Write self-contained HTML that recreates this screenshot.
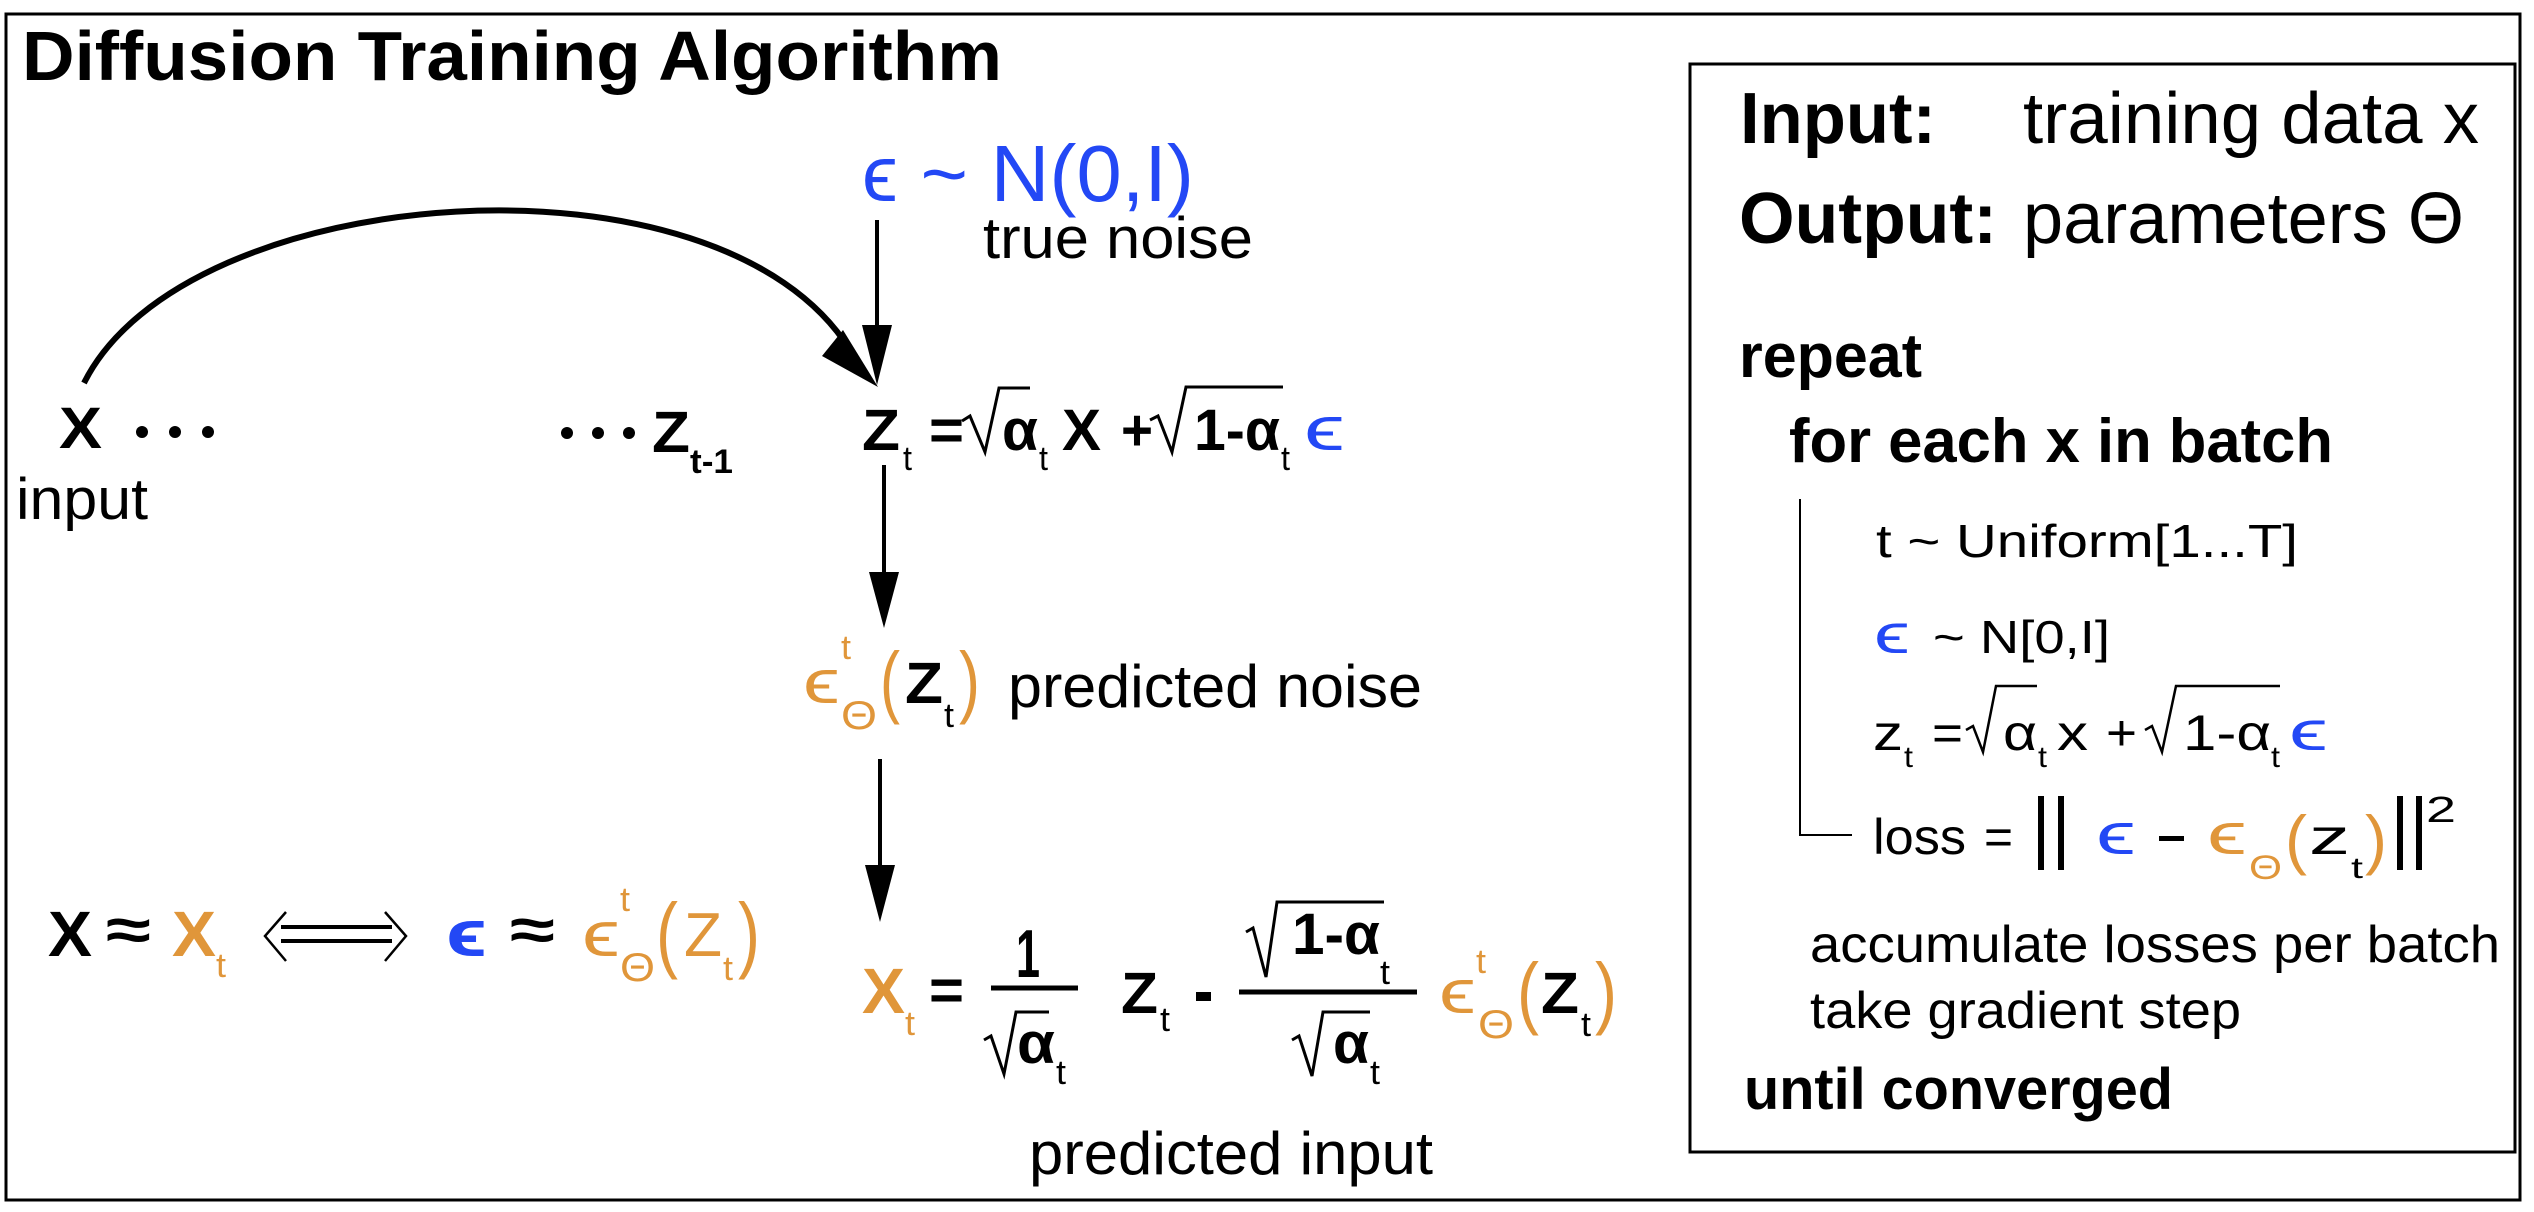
<!DOCTYPE html>
<html><head><meta charset="utf-8"><style>
html,body{margin:0;padding:0;background:#fff;width:2534px;height:1212px;overflow:hidden}
svg{display:block}
text{font-family:"Liberation Sans","DejaVu Sans",sans-serif}
.b{font-weight:bold}
.bl{fill:#2348f5}
.or{fill:#e0963a}
</style></head><body>
<svg width="2534" height="1212" viewBox="0 0 2534 1212" xmlns="http://www.w3.org/2000/svg">
<rect x="6" y="14" width="2514" height="1186" fill="none" stroke="#000" stroke-width="3"/>
<rect x="1690" y="64" width="825" height="1088" fill="none" stroke="#000" stroke-width="3"/>

<text x="22" y="80" class="b" font-size="70" textLength="980" lengthAdjust="spacingAndGlyphs">Diffusion Training Algorithm</text>

<text x="862" y="201" class="bl" font-size="80" textLength="332" lengthAdjust="spacingAndGlyphs">ϵ ~ N(0,I)</text>
<text x="983" y="258" font-size="58" textLength="270" lengthAdjust="spacingAndGlyphs">true noise</text>

<line x1="877" y1="220" x2="877" y2="335" stroke="#000" stroke-width="4"/>
<polygon points="862,325 892,325 877,385" fill="#000"/>
<path d="M84,383 C185,180 720,140 850,350" fill="none" stroke="#000" stroke-width="6"/>
<polygon points="878,387 822,356 843,330" fill="#000"/>
<line x1="884" y1="465" x2="884" y2="580" stroke="#000" stroke-width="4"/>
<polygon points="869,572 899,572 884,628" fill="#000"/>
<line x1="880" y1="759" x2="880" y2="870" stroke="#000" stroke-width="4"/>
<polygon points="865,865 895,865 880,922" fill="#000"/>

<text x="59" y="448" class="b" font-size="58" textLength="43" lengthAdjust="spacingAndGlyphs">X</text>
<g fill="#000"><circle cx="142" cy="432" r="6"/><circle cx="175" cy="432" r="6"/><circle cx="208" cy="432" r="6"/>
<circle cx="567" cy="433" r="6"/><circle cx="598" cy="433" r="6"/><circle cx="629" cy="433" r="6"/></g>
<text x="16" y="519" font-size="58" textLength="132" lengthAdjust="spacingAndGlyphs">input</text>
<text x="652" y="452" class="b" font-size="58" textLength="38" lengthAdjust="spacingAndGlyphs">Z</text>
<text x="690" y="473" class="b" font-size="34" textLength="43" lengthAdjust="spacingAndGlyphs">t-1</text>

<text x="862" y="450" class="b" font-size="58" textLength="38" lengthAdjust="spacingAndGlyphs">Z</text>
<text x="903" y="470" font-size="34" textLength="9" lengthAdjust="spacingAndGlyphs">t</text>
<text x="929" y="450" class="b" font-size="58" textLength="35" lengthAdjust="spacingAndGlyphs">=</text>
<path d="M962,421 L970,416 L985,452 L999,388 L1030,388" fill="none" stroke="#000" stroke-width="3"/>
<text x="1002" y="450" class="b" font-size="58" textLength="36" lengthAdjust="spacingAndGlyphs">α</text>
<text x="1039" y="470" font-size="34" textLength="9" lengthAdjust="spacingAndGlyphs">t</text>
<text x="1062" y="450" class="b" font-size="58" textLength="39" lengthAdjust="spacingAndGlyphs">X</text>
<text x="1121" y="450" class="b" font-size="58" textLength="32" lengthAdjust="spacingAndGlyphs">+</text>
<path d="M1150,420 L1158,416 L1172,452 L1186,387 L1283,387" fill="none" stroke="#000" stroke-width="3"/>
<text x="1194" y="450" class="b" font-size="58" textLength="86" lengthAdjust="spacingAndGlyphs">1-α</text>
<text x="1281" y="470" font-size="34" textLength="9" lengthAdjust="spacingAndGlyphs">t</text>
<text x="1304" y="450" class="bl" font-size="62" textLength="41" lengthAdjust="spacingAndGlyphs">ϵ</text>

<text x="803" y="703" class="or" font-size="62" textLength="37" lengthAdjust="spacingAndGlyphs">ϵ</text>
<text x="841" y="659" class="or" font-size="34" textLength="10" lengthAdjust="spacingAndGlyphs">t</text>
<text x="841" y="729" class="or" font-size="40" textLength="36" lengthAdjust="spacingAndGlyphs">Θ</text>
<text x="880" y="708" class="or" font-size="80" textLength="20" lengthAdjust="spacingAndGlyphs">(</text>
<text x="905" y="703" class="b" font-size="58" textLength="38" lengthAdjust="spacingAndGlyphs">Z</text>
<text x="944" y="727" font-size="34" textLength="10" lengthAdjust="spacingAndGlyphs">t</text>
<text x="959" y="708" class="or" font-size="80" textLength="21" lengthAdjust="spacingAndGlyphs">)</text>
<text x="1008" y="707" font-size="60" textLength="414" lengthAdjust="spacingAndGlyphs">predicted noise</text>

<text x="48" y="956" class="b" font-size="64" textLength="44" lengthAdjust="spacingAndGlyphs">X</text>
<text x="106" y="950" class="b" font-size="60" textLength="45" lengthAdjust="spacingAndGlyphs">≈</text>
<text x="172" y="956" class="or b" font-size="64" textLength="44" lengthAdjust="spacingAndGlyphs">X</text>
<text x="216" y="977" class="or" font-size="34" textLength="10" lengthAdjust="spacingAndGlyphs">t</text>
<line x1="281" y1="927" x2="392" y2="927" stroke="#000" stroke-width="4"/>
<line x1="281" y1="941" x2="392" y2="941" stroke="#000" stroke-width="4"/>
<polyline points="286,912 265,936 286,961" fill="none" stroke="#000" stroke-width="2.5"/>
<polyline points="385,912 406,936 385,961" fill="none" stroke="#000" stroke-width="2.5"/>
<text x="446" y="956" class="bl b" font-size="66" textLength="41" lengthAdjust="spacingAndGlyphs">ϵ</text>
<text x="510" y="950" class="b" font-size="60" textLength="45" lengthAdjust="spacingAndGlyphs">≈</text>
<text x="582" y="956" class="or" font-size="64" textLength="38" lengthAdjust="spacingAndGlyphs">ϵ</text>
<text x="620" y="911" class="or" font-size="34" textLength="10" lengthAdjust="spacingAndGlyphs">t</text>
<text x="620" y="981" class="or" font-size="40" textLength="35" lengthAdjust="spacingAndGlyphs">Θ</text>
<text x="656" y="962" class="or" font-size="84" textLength="22" lengthAdjust="spacingAndGlyphs">(</text>
<text x="684" y="956" class="or" font-size="62" textLength="38" lengthAdjust="spacingAndGlyphs">Z</text>
<text x="723" y="980" class="or" font-size="34" textLength="10" lengthAdjust="spacingAndGlyphs">t</text>
<text x="738" y="962" class="or" font-size="84" textLength="22" lengthAdjust="spacingAndGlyphs">)</text>

<text x="862" y="1013" class="or b" font-size="64" textLength="43" lengthAdjust="spacingAndGlyphs">X</text>
<text x="905" y="1035" class="or" font-size="34" textLength="10" lengthAdjust="spacingAndGlyphs">t</text>
<text x="929" y="1010" class="b" font-size="58" textLength="35" lengthAdjust="spacingAndGlyphs">=</text>
<text x="1016" y="977" class="b" font-size="68" textLength="24" lengthAdjust="spacingAndGlyphs">1</text>
<line x1="991" y1="988" x2="1078" y2="988" stroke="#000" stroke-width="5"/>
<path d="M984,1040 L991,1036 L1004,1074 L1016,1012 L1049,1012" fill="none" stroke="#000" stroke-width="3"/>
<text x="1017" y="1063" class="b" font-size="58" textLength="38" lengthAdjust="spacingAndGlyphs">α</text>
<text x="1056" y="1084" font-size="34" textLength="10" lengthAdjust="spacingAndGlyphs">t</text>
<text x="1121" y="1013" class="b" font-size="58" textLength="37" lengthAdjust="spacingAndGlyphs">Z</text>
<text x="1160" y="1031" font-size="34" textLength="10" lengthAdjust="spacingAndGlyphs">t</text>
<rect x="1196" y="992" width="15" height="9" fill="#000"/>
<line x1="1239" y1="992" x2="1417" y2="992" stroke="#000" stroke-width="5"/>
<path d="M1246,932 L1253,928 L1266,977 L1277,902 L1384,902" fill="none" stroke="#000" stroke-width="3"/>
<text x="1292" y="954" class="b" font-size="58" textLength="88" lengthAdjust="spacingAndGlyphs">1-α</text>
<text x="1380" y="984" font-size="34" textLength="10" lengthAdjust="spacingAndGlyphs">t</text>
<path d="M1292,1040 L1299,1036 L1312,1076 L1323,1012 L1370,1012" fill="none" stroke="#000" stroke-width="3"/>
<text x="1333" y="1063" class="b" font-size="58" textLength="36" lengthAdjust="spacingAndGlyphs">α</text>
<text x="1370" y="1084" font-size="34" textLength="10" lengthAdjust="spacingAndGlyphs">t</text>
<text x="1439" y="1013" class="or" font-size="62" textLength="37" lengthAdjust="spacingAndGlyphs">ϵ</text>
<text x="1476" y="973" class="or" font-size="34" textLength="10" lengthAdjust="spacingAndGlyphs">t</text>
<text x="1478" y="1038" class="or" font-size="40" textLength="36" lengthAdjust="spacingAndGlyphs">Θ</text>
<text x="1517" y="1019" class="or" font-size="80" textLength="22" lengthAdjust="spacingAndGlyphs">(</text>
<text x="1541" y="1013" class="b" font-size="58" textLength="38" lengthAdjust="spacingAndGlyphs">Z</text>
<text x="1581" y="1036" font-size="34" textLength="10" lengthAdjust="spacingAndGlyphs">t</text>
<text x="1595" y="1019" class="or" font-size="80" textLength="22" lengthAdjust="spacingAndGlyphs">)</text>
<text x="1029" y="1174" font-size="60" textLength="404" lengthAdjust="spacingAndGlyphs">predicted input</text>

<text x="1740" y="143" class="b" font-size="72" textLength="196" lengthAdjust="spacingAndGlyphs">Input:</text>
<text x="2023" y="143" font-size="72" textLength="456" lengthAdjust="spacingAndGlyphs">training data x</text>
<text x="1739" y="243" class="b" font-size="72" textLength="258" lengthAdjust="spacingAndGlyphs">Output:</text>
<text x="2023" y="243" font-size="72" textLength="441" lengthAdjust="spacingAndGlyphs">parameters Θ</text>
<text x="1739" y="377" class="b" font-size="62" textLength="183" lengthAdjust="spacingAndGlyphs">repeat</text>
<text x="1789" y="462" class="b" font-size="62" textLength="544" lengthAdjust="spacingAndGlyphs">for each x in batch</text>
<polyline points="1800,499 1800,835 1852,835" fill="none" stroke="#000" stroke-width="2"/>
<text x="1876" y="557" font-size="46" textLength="422" lengthAdjust="spacingAndGlyphs">t  ~ Uniform[1...T]</text>
<text x="1874" y="653" class="bl" font-size="56" textLength="36" lengthAdjust="spacingAndGlyphs">ϵ</text>
<text x="1933" y="653" font-size="46" textLength="177" lengthAdjust="spacingAndGlyphs">~ N[0,I]</text>
<text x="1873" y="750" font-size="50" textLength="30" lengthAdjust="spacingAndGlyphs">z</text>
<text x="1904" y="767" font-size="30" textLength="9" lengthAdjust="spacingAndGlyphs">t</text>
<text x="1932" y="750" font-size="50" textLength="31" lengthAdjust="spacingAndGlyphs">=</text>
<path d="M1966,730 L1973,726 L1983,752 L1996,686 L2037,686" fill="none" stroke="#000" stroke-width="2.5"/>
<text x="2003" y="750" font-size="50" textLength="34" lengthAdjust="spacingAndGlyphs">α</text>
<text x="2038" y="767" font-size="30" textLength="9" lengthAdjust="spacingAndGlyphs">t</text>
<text x="2057" y="750" font-size="50" textLength="31" lengthAdjust="spacingAndGlyphs">x</text>
<text x="2106" y="750" font-size="50" textLength="31" lengthAdjust="spacingAndGlyphs">+</text>
<path d="M2145,730 L2152,726 L2162,752 L2176,686 L2280,686" fill="none" stroke="#000" stroke-width="2.5"/>
<text x="2183" y="750" font-size="50" textLength="88" lengthAdjust="spacingAndGlyphs">1-α</text>
<text x="2271" y="767" font-size="30" textLength="9" lengthAdjust="spacingAndGlyphs">t</text>
<text x="2289" y="750" class="bl" font-size="56" textLength="39" lengthAdjust="spacingAndGlyphs">ϵ</text>
<text x="1873" y="854" font-size="50" textLength="93" lengthAdjust="spacingAndGlyphs">loss</text>
<text x="1984" y="854" font-size="50" textLength="29" lengthAdjust="spacingAndGlyphs">=</text>
<rect x="2038" y="796" width="6" height="74" fill="#000"/>
<rect x="2058" y="796" width="6" height="74" fill="#000"/>
<text x="2096" y="854" class="bl" font-size="58" textLength="40" lengthAdjust="spacingAndGlyphs">ϵ</text>
<rect x="2159" y="836" width="25" height="5" fill="#000"/>
<text x="2207" y="854" class="or" font-size="58" textLength="40" lengthAdjust="spacingAndGlyphs">ϵ</text>
<text x="2249" y="879" class="or" font-size="34" textLength="33" lengthAdjust="spacingAndGlyphs">Θ</text>
<text x="2285" y="862" class="or" font-size="66" textLength="22" lengthAdjust="spacingAndGlyphs">(</text>
<text x="2309" y="854" font-size="50" textLength="41" lengthAdjust="spacingAndGlyphs">z</text>
<text x="2351" y="878" font-size="30" textLength="12" lengthAdjust="spacingAndGlyphs">t</text>
<text x="2365" y="862" class="or" font-size="66" textLength="22" lengthAdjust="spacingAndGlyphs">)</text>
<rect x="2397" y="796" width="6" height="74" fill="#000"/>
<rect x="2416" y="796" width="6" height="74" fill="#000"/>
<text x="2426" y="822" font-size="36" textLength="30" lengthAdjust="spacingAndGlyphs">2</text>
<text x="1810" y="962" font-size="52" textLength="690" lengthAdjust="spacingAndGlyphs">accumulate losses per batch</text>
<text x="1810" y="1028" font-size="52" textLength="431" lengthAdjust="spacingAndGlyphs">take gradient step</text>
<text x="1744" y="1109" class="b" font-size="58" textLength="429" lengthAdjust="spacingAndGlyphs">until converged</text>
</svg>
</body></html>
